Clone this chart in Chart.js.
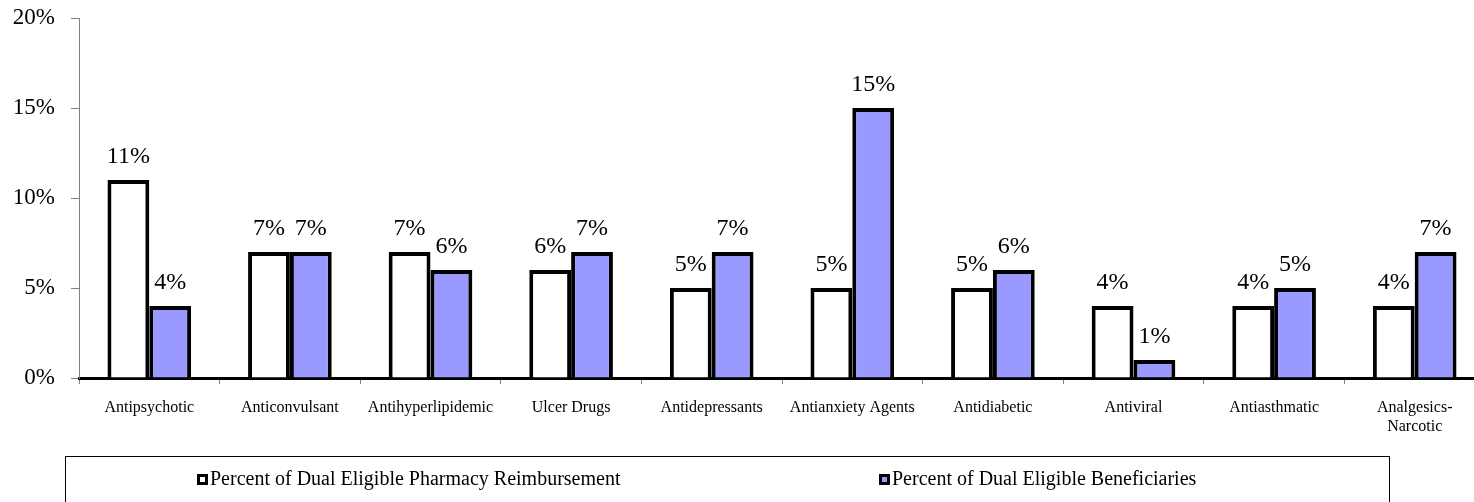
<!DOCTYPE html>
<html>
<head>
<meta charset="utf-8">
<script src="https://cdn.jsdelivr.net/npm/chart.js@4"></script>
<style>
  html, body { margin: 0; padding: 0; background: #fff; overflow: hidden; }
  #wrap { position: relative; width: 1500px; height: 502px; }
</style>
</head>
<body>
<div id="wrap"><canvas id="myChart"></canvas></div>
<script>
var categories = ['Antipsychotic', 'Anticonvulsant', 'Antihyperlipidemic', 'Ulcer Drugs', 'Antidepressants',
  'Antianxiety Agents', 'Antidiabetic', 'Antiviral', 'Antiasthmatic', ['Analgesics-', 'Narcotic']];
var reimbursement = [11, 7, 7, 6, 5, 5, 5, 4, 4, 4];
var beneficiaries = [4, 7, 6, 7, 7, 15, 6, 1, 5, 7];
var yTicks = [0, 5, 10, 15, 20];
var seriesNames = ['Percent of Dual Eligible Pharmacy Reimbursement', 'Percent of Dual Eligible Beneficiaries'];

var serif = '"Liberation Serif", "Times New Roman", serif';

// value labels above each bar
var barLabels = {
  id: 'barLabels',
  afterDatasetsDraw: function(chart) {
    var ctx = chart.ctx;
    ctx.save();
    ctx.font = '24px ' + serif;
    ctx.fillStyle = '#000';
    ctx.textAlign = 'center';
    ctx.textBaseline = 'middle';
    chart.data.datasets.forEach(function(ds, i) {
      chart.getDatasetMeta(i).data.forEach(function(bar, j) {
        ctx.fillText(ds.data[j] + '%', bar.x, bar.y - 23);
      });
    });
    ctx.restore();
  }
};

// boxed legend at the bottom, like the original
var boxLegend = {
  id: 'boxLegend',
  afterDraw: function(chart) {
    var ctx = chart.ctx;
    ctx.save();
    ctx.strokeStyle = '#000';
    ctx.lineWidth = 1;
    ctx.strokeRect(65.5, 456.5, 1324, 80);
    var xs = [197, 879];
    ctx.font = '20px ' + serif;
    ctx.textBaseline = 'middle';
    ctx.textAlign = 'left';
    chart.data.datasets.forEach(function(ds, i) {
      var x = xs[i];
      ctx.fillStyle = '#000';
      ctx.fillRect(x, 474, 11, 11);
      ctx.fillStyle = ds.backgroundColor;
      ctx.fillRect(x + 3, 477, 5, 5);
      ctx.fillStyle = '#000';
      ctx.fillText(ds.label, x + 13, 480);
    });
    ctx.restore();
  }
};

var ctx = document.getElementById('myChart').getContext('2d');
var myChart = new Chart(ctx, {
  type: 'bar',
  data: {
    labels: categories,
    datasets: [{
      label: seriesNames[0],
      data: reimbursement,
      backgroundColor: '#FFFFFF',
      borderColor: '#000000',
      borderWidth: 4
    }, {
      label: seriesNames[1],
      data: beneficiaries,
      backgroundColor: '#9999FF',
      borderColor: '#000000',
      borderWidth: 4
    }]
  },
  options: {
    responsive: true,
    maintainAspectRatio: false,
    animation: false,
    layout: { padding: { top: 18, right: 15, left: 0, bottom: 0 } },
    datasets: {
      bar: { categoryPercentage: 0.595, barPercentage: 1.0 }
    },
    plugins: {
      legend: { display: false },
      tooltip: { enabled: false }
    },
    scales: {
      x: {
        z: 1,
        grid: { drawOnChartArea: false, drawTicks: true, tickLength: 6, color: '#808080', offset: true },
        border: { display: true, color: '#000000', width: 3 },
        ticks: { color: '#000', font: { family: serif, size: 16 }, padding: 14, maxRotation: 0, autoSkip: false },
        afterFit: function(scale) { scale.height = 124; }
      },
      y: {
        min: 0,
        max: 20,
        afterBuildTicks: function(scale) {
          scale.ticks = yTicks.map(function(v) { return { value: v }; });
        },
        grid: { drawOnChartArea: false, drawTicks: true, tickLength: 8, color: '#808080' },
        border: { display: true, color: '#808080', width: 1 },
        ticks: {
          color: '#000',
          font: { family: serif, size: 23 },
          padding: 16,
          callback: function(v) { return v + '%'; }
        },
        afterFit: function(scale) {
          scale.width = 79;
          scale.paddingTop = 0;
          scale.paddingBottom = 0;
        }
      }
    }
  },
  plugins: [barLabels, boxLegend]
});
</script>
</body>
</html>
